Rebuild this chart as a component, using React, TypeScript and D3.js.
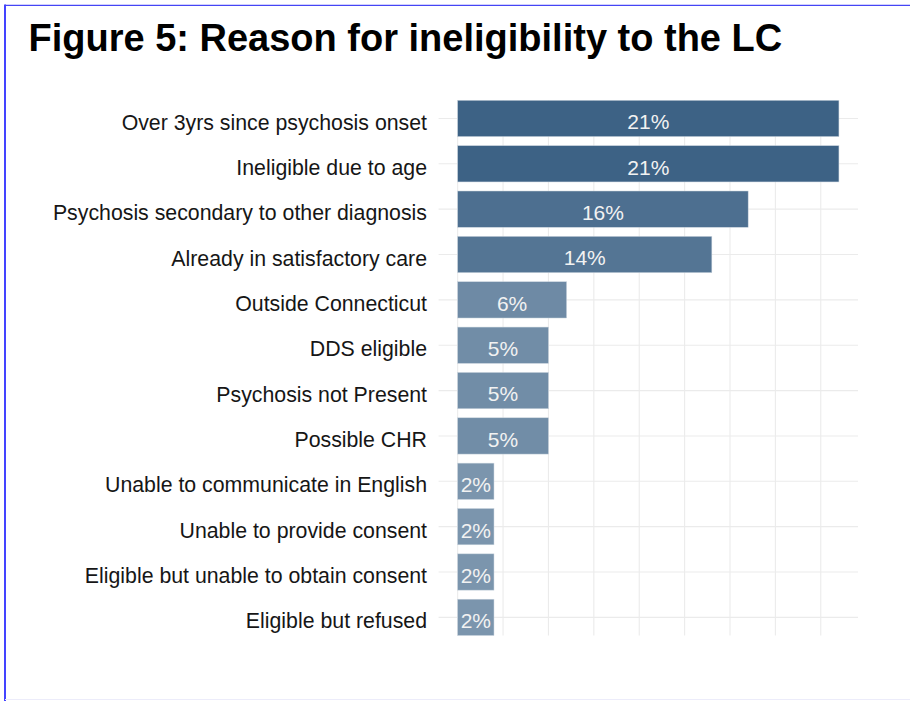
import { range, scaleBand, scaleLinear } from "d3";

const categories = [
  "Over 3yrs since psychosis onset",
  "Ineligible due to age",
  "Psychosis secondary to other diagnosis",
  "Already in satisfactory care",
  "Outside Connecticut",
  "DDS eligible",
  "Psychosis not Present",
  "Possible CHR",
  "Unable to communicate in English",
  "Unable to provide consent",
  "Eligible but unable to obtain consent",
  "Eligible but refused",
];
const percents = [21, 21, 16, 14, 6, 5, 5, 5, 2, 2, 2, 2];
const gridStep = 2.5;

const width = 910;
const height = 701;
const panel = { left: 438.6, right: 858, top: 100.3, bottom: 635.5 };
const font = "'Liberation Sans', Arial, sans-serif";

function App() {
  const maxValue = Math.max(...percents);
  const x = scaleLinear()
    .domain([-0.05 * maxValue, 1.05 * maxValue])
    .range([panel.left, panel.right]);
  const y = scaleBand<string>()
    .domain(categories)
    .range([panel.top, panel.bottom])
    .paddingInner(0.2)
    .paddingOuter(0);
  const minValue = Math.min(...percents);
  const fill = scaleLinear<string>()
    .domain([minValue, maxValue])
    .range(["#7b95ad", "#3d6285"]);
  const xTicks = range(0, x.domain()[1], gridStep);
  const bw = y.bandwidth();

  return (
    <svg
      width={width}
      height={height}
      style={{ position: "absolute", left: 0, top: 0, background: "#fff" }}
    >
      <line x1={5} x2={5} y1={4.5} y2={height} stroke="#2f2fff" strokeWidth={1.8} />
      <line x1={5} x2={width} y1={5.3} y2={5.3} stroke="#4545f5" strokeWidth={1.3} />
      <line x1={5} x2={width} y1={699.5} y2={699.5} stroke="#ececfa" strokeWidth={1} />
      <text
        x={28.5}
        y={51.2}
        fontFamily={font}
        fontWeight="bold"
        fontSize={38}
        fill="#000"
      >
        Figure 5: Reason for ineligibility to the LC
      </text>
      <g>
        {xTicks.map((t) => (
          <line
            key={t}
            x1={x(t)}
            x2={x(t)}
            y1={panel.top}
            y2={panel.bottom}
            stroke="#ebebeb"
            strokeWidth={1.1}
          />
        ))}
        {categories.map((c) => (
          <line
            key={c}
            x1={panel.left}
            x2={panel.right}
            y1={(y(c) ?? 0) + bw / 2}
            y2={(y(c) ?? 0) + bw / 2}
            stroke="#ebebeb"
            strokeWidth={1.1}
          />
        ))}
      </g>
      <g>
        {categories.map((c, i) => (
          <rect
            key={c}
            x={x(0)}
            y={y(c)}
            width={x(percents[i]) - x(0)}
            height={bw}
            fill={fill(percents[i])}
            stroke="#c9d3dd"
            strokeWidth={0.5}
          />
        ))}
      </g>
      <g fontFamily={font} fontSize={21}>
        {categories.map((c, i) => (
          <text
            key={c}
            x={(x(0) + x(percents[i])) / 2}
            y={(y(c) ?? 0) + bw / 2}
            dy="0.52em"
            textAnchor="middle"
            fill="#f2f2f2"
          >
            {`${percents[i]}%`}
          </text>
        ))}
        {categories.map((c) => (
          <text
            key={c}
            x={427}
            y={(y(c) ?? 0) + bw / 2}
            dy="0.52em"
            textAnchor="end"
            fill="#161616"
            fontSize={21.3}
          >
            {c}
          </text>
        ))}
      </g>
    </svg>
  );
}

export default App;
